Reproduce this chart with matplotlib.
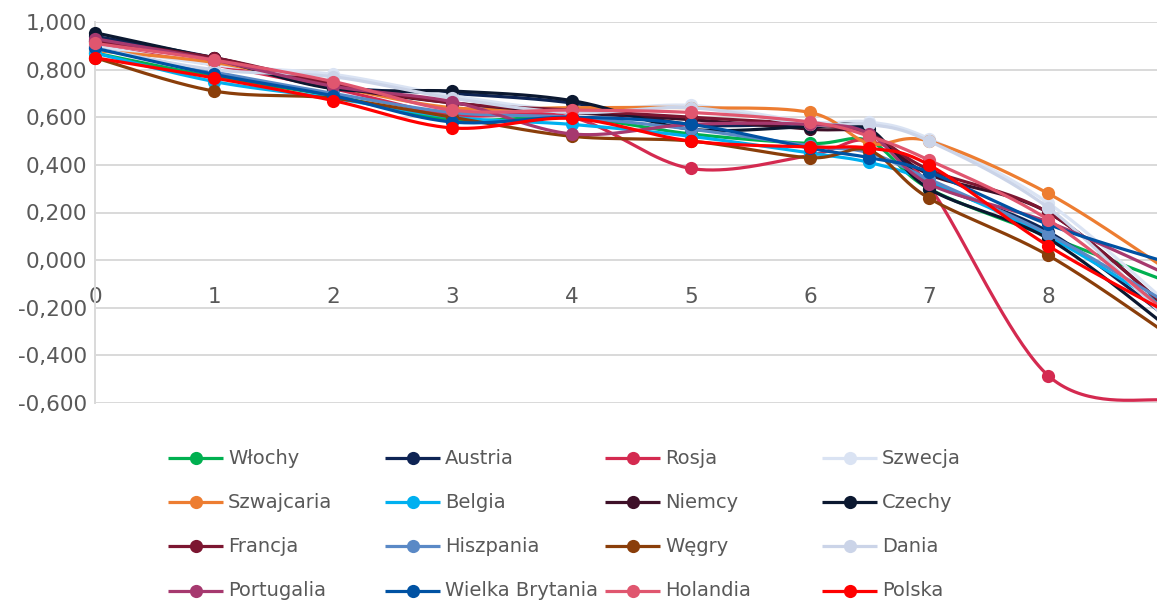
import numpy as np
import matplotlib
matplotlib.use("Agg")
import matplotlib.pyplot as plt
from matplotlib.lines import Line2D
from matplotlib.ticker import FuncFormatter

# Horizontal positions of the measurement points
x_points = [0, 1, 2, 3, 4, 5, 6, 6.5, 7, 8, 9]

# Series, in legend order
names = ["Włochy", "Austria", "Rosja", "Szwecja",
         "Szwajcaria", "Belgia", "Niemcy", "Czechy",
         "Francja", "Hiszpania", "Węgry", "Dania",
         "Portugalia", "Wielka Brytania", "Holandia", "Polska"]

wlochy      = [0.87, 0.77, 0.69, 0.59, 0.60, 0.53, 0.49, 0.50, 0.30, 0.10, -0.09]
austria     = [0.94, 0.85, 0.73, 0.70, 0.66, 0.57, 0.57, 0.54, 0.33, 0.12, -0.24]
rosja       = [0.90, 0.82, 0.72, 0.61, 0.60, 0.385, 0.44, 0.50, 0.31, -0.485, -0.59]
szwecja     = [0.90, 0.82, 0.78, 0.69, 0.63, 0.65, 0.58, 0.58, 0.51, 0.24, -0.18]
szwajcaria  = [0.88, 0.83, 0.73, 0.64, 0.64, 0.64, 0.62, 0.49, 0.50, 0.28, -0.04]
belgia      = [0.87, 0.75, 0.68, 0.60, 0.57, 0.52, 0.45, 0.41, 0.33, 0.10, -0.20]
niemcy      = [0.92, 0.85, 0.73, 0.66, 0.62, 0.59, 0.55, 0.53, 0.36, 0.20, -0.20]
czechy      = [0.955, 0.845, 0.72, 0.71, 0.67, 0.55, 0.56, 0.55, 0.30, 0.09, -0.28]
francja     = [0.92, 0.85, 0.74, 0.66, 0.63, 0.60, 0.57, 0.53, 0.38, 0.20, -0.20]
hiszpania   = [0.89, 0.79, 0.70, 0.62, 0.60, 0.55, 0.48, 0.45, 0.34, 0.11, -0.18]
wegry       = [0.85, 0.71, 0.68, 0.60, 0.52, 0.50, 0.43, 0.46, 0.26, 0.02, -0.31]
dania       = [0.89, 0.80, 0.77, 0.68, 0.62, 0.64, 0.57, 0.57, 0.50, 0.22, -0.25]
portugalia  = [0.93, 0.84, 0.73, 0.665, 0.53, 0.57, 0.57, 0.53, 0.32, 0.16, -0.06]
wielka_bryt = [0.89, 0.78, 0.69, 0.58, 0.60, 0.57, 0.47, 0.43, 0.37, 0.15, -0.01]
holandia    = [0.91, 0.84, 0.75, 0.63, 0.63, 0.62, 0.58, 0.52, 0.42, 0.17, -0.22]
polska      = [0.85, 0.765, 0.67, 0.555, 0.595, 0.50, 0.475, 0.47, 0.40, 0.06, -0.22]

series = [wlochy, austria, rosja, szwecja,
          szwajcaria, belgia, niemcy, czechy,
          francja, hiszpania, wegry, dania,
          portugalia, wielka_bryt, holandia, polska]

colors = ["#00B050", "#0E2454", "#D42A50", "#DAE3F3",
          "#ED7D31", "#00B0F0", "#3E1028", "#0B1830",
          "#7C1631", "#5A89C6", "#8A3E0A", "#CBD4E8",
          "#A6396F", "#0052A3", "#E0566F", "#FF0000"]

y_ticks = [-0.6, -0.4, -0.2, 0.0, 0.2, 0.4, 0.6, 0.8, 1.0]
x_ticks = [0, 1, 2, 3, 4, 5, 6, 7, 8]

TXT = "#595959"
GRID = "#D9D9D9"
plt.rcParams["font.family"] = ["DejaVu Sans"]


def smooth(xs, ys, steps=40):
    """Cardinal (Catmull-Rom style) Bezier smoothing through the points."""
    p = np.column_stack([xs, ys]).astype(float)
    n = len(p)
    out = []
    for i in range(n - 1):
        p0 = p[i - 1] if i > 0 else p[i]
        p1 = p[i]
        p2 = p[i + 1]
        p3 = p[i + 2] if i + 2 < n else p[i + 1]
        c1 = p1 + (p2 - p0) / 6.0
        c2 = p2 - (p3 - p1) / 6.0
        t = np.linspace(0, 1, steps)[:, None]
        seg = ((1 - t) ** 3) * p1 + 3 * ((1 - t) ** 2) * t * c1 \
            + 3 * (1 - t) * t ** 2 * c2 + t ** 3 * p2
        out.append(seg if i == 0 else seg[1:])
    out = np.vstack(out)
    return out[:, 0], out[:, 1]


W, H = 1157, 604
fig = plt.figure(figsize=(W / 100, H / 100), dpi=100)
ax = fig.add_axes([95 / W, 1 - 403 / H, (W - 95) / W, (403 - 22) / H])

ax.set_xlim(0, (W - 95) / 119.15)
ax.set_ylim(-0.6, 1.0)

for i, (vals, col) in enumerate(zip(series, colors)):
    sx, sy = smooth(x_points, vals)
    ax.plot(sx, sy, color=col, lw=2.3, clip_on=False, zorder=3 + 2 * i,
            solid_capstyle="round")
    ax.plot(x_points, vals, "o", color=col, ms=9.5, mew=0, clip_on=False,
            zorder=4 + 2 * i)

# Axes styling
ax.set_yticks(y_ticks)
ax.yaxis.set_major_formatter(FuncFormatter(lambda v, _: f"{v:.3f}".replace(".", ",")))
ax.set_xticks(x_ticks)
ax.set_xticklabels([str(t) for t in x_ticks])
ax.grid(axis="y", color=GRID, lw=1.4, zorder=0)
ax.set_axisbelow(True)
for s in ["top", "right", "bottom"]:
    ax.spines[s].set_visible(False)
ax.spines["left"].set_color(GRID)
ax.spines["left"].set_linewidth(1.4)
ax.spines["bottom"].set_position(("data", 0))
ax.tick_params(axis="y", length=0, pad=6, labelsize=15.5, labelcolor=TXT)
ax.tick_params(axis="x", length=0, pad=19, labelsize=15.5, labelcolor=TXT)

# Legend: 4 columns of equal width, filled row by row
col_x = [168, 385, 605, 822]
row_y = [458, 502, 546, 591]
for k, (name, col) in enumerate(zip(names, colors)):
    r, c = divmod(k, 4)
    x0 = col_x[c]
    y0 = 1 - row_y[r] / H
    fig.add_artist(Line2D([x0 / W, (x0 + 55) / W], [y0, y0], color=col, lw=2.3,
                          solid_capstyle="butt", transform=fig.transFigure))
    fig.add_artist(Line2D([(x0 + 27.5) / W], [y0], marker="o", ms=9.5, mew=0,
                          color=col, transform=fig.transFigure))
    fig.text((x0 + 60) / W, y0, name, fontsize=14, color=TXT,
             va="center", ha="left")

fig.savefig("out.png", dpi=100)
